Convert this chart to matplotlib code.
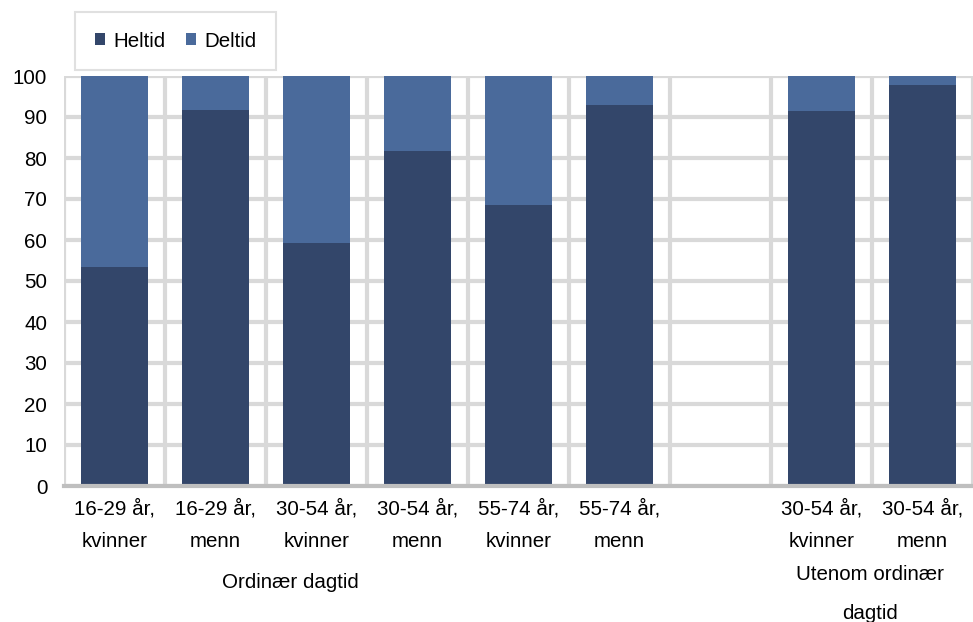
import numpy as np
import matplotlib.pyplot as plt

plt.rcParams['font.family'] = ['Liberation Sans', 'DejaVu Sans']

# data
categories = ["16-29 år,\nkvinner", "16-29 år,\nmenn", "30-54 år,\nkvinner", "30-54 år,\nmenn",
              "55-74 år,\nkvinner", "55-74 år,\nmenn", "", "30-54 år,\nkvinner", "30-54 år,\nmenn"]
heltid = [53.5, 91.8, 59.3, 81.8, 68.6, 92.9, 0, 91.5, 97.7]
deltid = [46.5, 8.2, 40.7, 18.2, 31.4, 7.1, 0, 8.5, 2.3]
groups = ["Ordinær dagtid", "Utenom ordinær", "dagtid"]

c_hel = '#33466a'
c_del = '#4a6a9b'
grid_c = '#d9d9d9'
fs = 14.8

fig = plt.figure(figsize=(9.73, 6.22), dpi=100)
ax = fig.add_axes([64 / 973, 1 - 486 / 622, 1 - 64 / 973, 410 / 622])

x = np.arange(len(categories))
ax.bar(x, heltid, width=0.67, color=c_hel, label='Heltid', zorder=3)
ax.bar(x, deltid, width=0.67, bottom=heltid, color=c_del, label='Deltid', zorder=3)

ax.set_xlim(-0.5, len(categories) - 0.5)
ax.set_ylim(0, 100)
ax.set_yticks(range(0, 101, 10))
ax.set_xticks(x)
ax.set_xticklabels(categories, fontsize=fs, linespacing=1.9)
ax.set_xticks(np.arange(-0.5, len(categories), 1), minor=True)
ax.tick_params(axis='both', which='both', length=0, labelsize=fs)
ax.tick_params(axis='x', pad=9)
ax.tick_params(axis='y', pad=12)

ax.grid(axis='y', which='major', color=grid_c, linewidth=3, zorder=0)
ax.grid(axis='x', which='minor', color=grid_c, linewidth=3, zorder=0)
ax.grid(axis='x', which='major', visible=False)

for s in ['top', 'right', 'left']:
    ax.spines[s].set_visible(False)
ax.spines['bottom'].set_color('#bfbfbf')
ax.spines['bottom'].set_linewidth(3)
ax.spines['bottom'].set_zorder(4)

# group labels
ax.text(1.74, -23.5, groups[0], ha='center', va='center', fontsize=fs)
ax.text(7.48, -21.7, groups[1], ha='center', va='center', fontsize=fs)
ax.text(7.48, -31.2, groups[2], ha='center', va='center', fontsize=fs)

leg = fig.legend(loc='upper left', bbox_to_anchor=(75 / 973, 1 - 12 / 622), ncol=2,
                 fontsize=fs, frameon=True, fancybox=False, handlelength=0.5, handleheight=0.5,
                 columnspacing=1.0, handletextpad=0.4, borderpad=0.95, borderaxespad=0)
leg.get_frame().set_edgecolor(grid_c)
leg.get_frame().set_linewidth(1.5)

fig.savefig('out.png', dpi=100)
